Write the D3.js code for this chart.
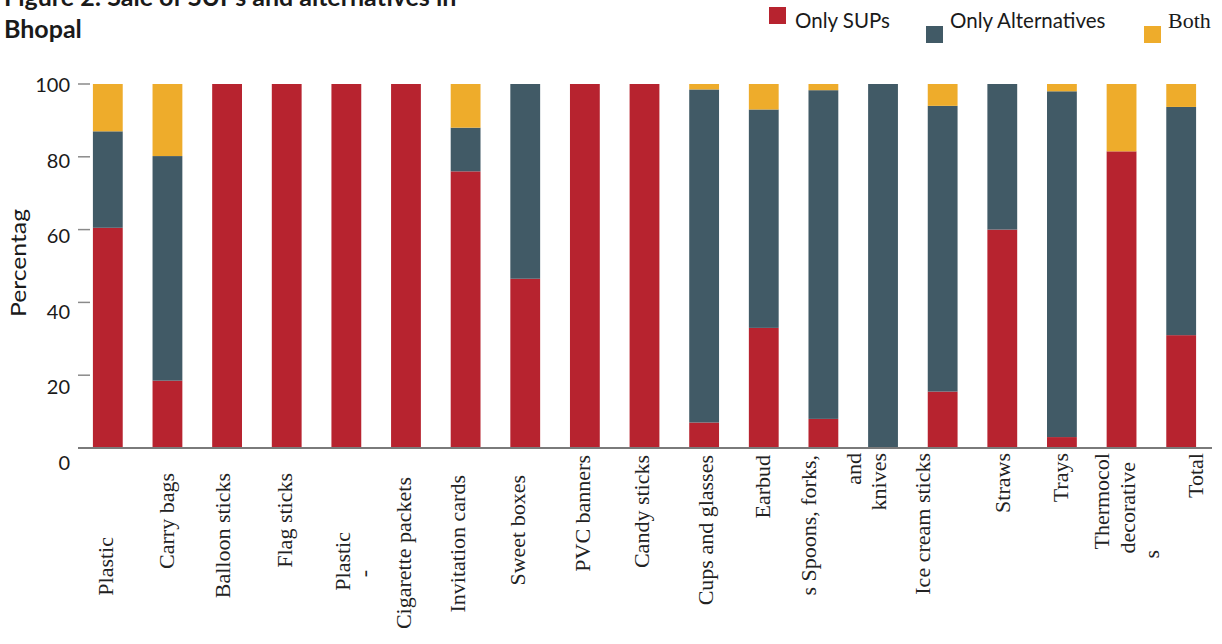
<!DOCTYPE html>
<html>
<head>
<meta charset="utf-8">
<script src="https://cdn.jsdelivr.net/npm/d3@7"></script>
<style>
  html, body { margin: 0; padding: 0; background: #fff; }
  svg { display: block; }
</style>
</head>
<body>
<svg id="chart" width="1222" height="644"></svg>
<script>
// ---- data ----
const categories = ["Plastic", "Carry bags", "Balloon sticks", "Flag sticks", "Plastic -", "Cigarette packets",
  "Invitation cards", "Sweet boxes", "PVC banners", "Candy sticks", "Cups and glasses", "Earbud",
  "s Spoons, forks, and", "knives", "Ice cream sticks", "Straws", "Trays", "Thermocol decorative s", "Total"];
const categoryLines = [["Plastic"], ["Carry bags"], ["Balloon sticks"], ["Flag sticks"], ["Plastic", "-"],
  ["Cigarette packets"], ["Invitation cards"], ["Sweet boxes"], ["PVC banners"], ["Candy sticks"],
  ["Cups and glasses"], ["Earbud"], ["s Spoons, forks,", "and"], ["knives"], ["Ice cream sticks"],
  ["Straws"], ["Trays"], ["Thermocol", "decorative", "s"], ["Total"]];
const onlySUPs =         [60.5, 18.5, 100, 100, 100, 100, 76, 46.5, 100, 100, 7,    33, 8,    0,   15.5, 60, 3,  81.5, 31];
const onlyAlternatives = [26.5, 61.7, 0,   0,   0,   0,   12, 53.5, 0,   0,   91.5, 60, 90.3, 100, 78.5, 40, 95, 0,    62.7];
const both =             [13,   19.8, 0,   0,   0,   0,   12, 0,    0,   0,   1.5,  7,  1.7,  0,   6,    0,  2,  18.5, 6.3];
const seriesNames = ["Only SUPs", "Only Alternatives", "Both"];
const yTicks = [0, 20, 40, 60, 80, 100];
const titleLines = ["Figure 2: Sale of SUPs and alternatives in", "Bhopal"];
const yAxisTitle = "Percentag";

// ---- layout (not data) ----
const labelLayout = [
  [[-3, 537]], [[-1, 473]], [[-5, 473]], [[-2, 473]], [[-4, 532], [17, 570]], [[-3, 477]],
  [[-8, 475]], [[-8, 475]], [[-3, 455]], [[-3, 455]], [[1, 455]], [[-1, 455]],
  [[-15, 455], [30, 453]], [[-5, 453]], [[-20, 453]], [[0, 453]], [[-2, 453]],
  [[-20, 453], [6, 462], [30, 550]], [[14, 453]]
];
const colors = { "Only SUPs": "#B7232F", "Only Alternatives": "#415A66", "Both": "#EEAC2B" };

const svg = d3.select("#chart");
const table = categories.map((c, i) => ({
  cat: c, "Only SUPs": onlySUPs[i], "Only Alternatives": onlyAlternatives[i], "Both": both[i]
}));
const stacked = d3.stack().keys(seriesNames)(table);

const x = d3.scaleBand().domain(categories).range([78, 1211]).paddingInner(0.5).paddingOuter(0.25);
const y = d3.scaleLinear().domain([0, 100]).range([448, 84]);
const yLabel = d3.scaleLinear().domain([0, 100]).range([463, 85]);

// bars
svg.append("g").selectAll("g").data(stacked).join("g")
  .attr("fill", d => colors[d.key])
  .selectAll("rect").data(d => d).join("rect")
  .attr("x", d => x(d.data.cat))
  .attr("width", x.bandwidth())
  .attr("y", d => y(d[1]))
  .attr("height", d => Math.max(0, y(d[0]) - y(d[1])));

// y ticks
const yAxisG = svg.append("g");
yAxisG.selectAll("line").data(yTicks.filter(t => t > 0)).join("line")
  .attr("x1", 78).attr("x2", 90)
  .attr("y1", d => y(d)).attr("y2", d => y(d))
  .attr("stroke", "#8a8a8a").attr("stroke-width", 1.5);
yAxisG.selectAll("text").data(yTicks).join("text")
  .attr("x", 70).attr("y", d => yLabel(d)).attr("dy", "0.35em")
  .attr("text-anchor", "end")
  .attr("font-family", "Lato, 'Open Sans', sans-serif").attr("font-size", 20)
  .attr("fill", "#1a1a1a").text(d => d);

// baseline
svg.append("line").attr("x1", 78).attr("x2", 1212).attr("y1", y(0)).attr("y2", y(0))
  .attr("stroke", "#7a7a7a").attr("stroke-width", 2);

// y axis title
svg.append("text")
  .attr("transform", "translate(18,263) rotate(-90)")
  .attr("dy", "0.35em").attr("text-anchor", "middle")
  .attr("font-family", "Lato, 'Open Sans', sans-serif").attr("font-size", 22)
  .attr("textLength", 108).attr("lengthAdjust", "spacingAndGlyphs")
  .attr("fill", "#1a1a1a").text(yAxisTitle);

// x labels
const xl = svg.append("g").attr("font-family", "'Liberation Serif', 'Times New Roman', serif")
  .attr("font-size", 22).attr("fill", "#222");
categories.forEach((c, i) => {
  const cx = x(c) + x.bandwidth() / 2;
  categoryLines[i].forEach((line, j) => {
    const [dx, top] = labelLayout[i][j];
    xl.append("text")
      .attr("transform", `translate(${cx + dx},${top}) rotate(-90)`)
      .attr("dy", "0.35em").attr("text-anchor", "end")
      .text(line);
  });
});

// title
svg.append("g").selectAll("text").data(titleLines).join("text")
  .attr("x", 4).attr("y", (d, i) => 6 + i * 32)
  .attr("font-family", "Lato, 'Open Sans', sans-serif").attr("font-weight", "bold")
  .attr("font-size", 25).attr("fill", "#1a1a1a").text(d => d);

// legend
const legendLayout = [
  { sx: 769, sy: 7, tx: 795, font: "Lato, 'Open Sans', sans-serif" },
  { sx: 926, sy: 26, tx: 950, font: "Lato, 'Open Sans', sans-serif" },
  { sx: 1144, sy: 26, tx: 1168, font: "'Liberation Serif', serif" }
];
const lg = svg.append("g");
seriesNames.forEach((s, i) => {
  const L = legendLayout[i];
  lg.append("rect").attr("x", L.sx).attr("y", L.sy).attr("width", 17).attr("height", 17).attr("fill", colors[s]);
  lg.append("text").attr("x", L.tx).attr("y", 28)
    .attr("font-family", L.font).attr("font-size", i === 2 ? 22 : 20.5)
    .attr("fill", "#1a1a1a").text(s);
});
</script>
</body>
</html>
